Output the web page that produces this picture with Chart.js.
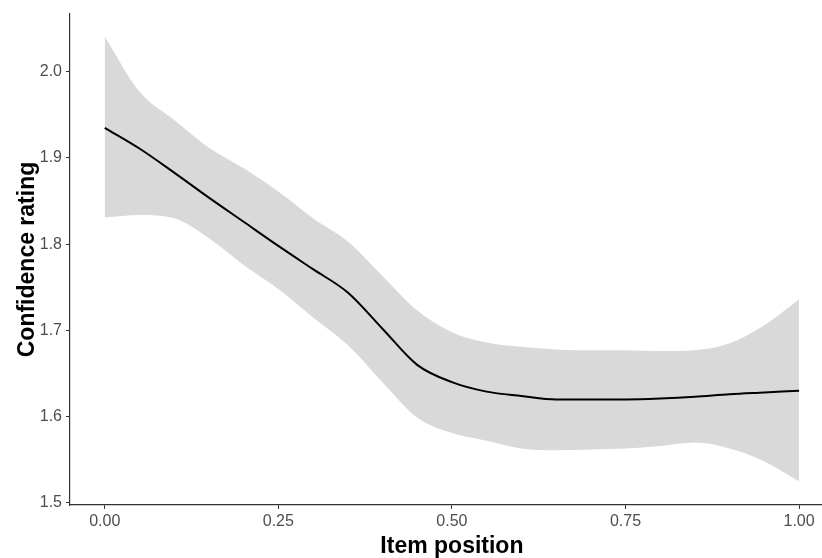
<!DOCTYPE html>
<html>
<head>
<meta charset="utf-8">
<script src="https://cdn.jsdelivr.net/npm/chart.js@4/dist/chart.umd.min.js"></script>
<style>
  html, body { margin: 0; padding: 0; background: #fff; }
  canvas { display: block; }
</style>
</head>
<body>
<canvas id="chart" width="822" height="558"></canvas>
<script>
// item position (proportion through the test) and the smoothed confidence rating
const positions = [0, 0.05, 0.10, 0.15, 0.20, 0.25, 0.30, 0.35, 0.40, 0.45, 0.50,
                   0.55, 0.60, 0.65, 0.70, 0.75, 0.80, 0.85, 0.90, 0.95, 1.00]
const meanRating = [1.935, 1.911, 1.883, 1.854, 1.826, 1.798, 1.771, 1.744, 1.702, 1.660, 1.640,
                    1.629, 1.624, 1.620, 1.620, 1.620, 1.621, 1.623, 1.626, 1.628, 1.630]
const upperCI = [2.041, 1.977, 1.944, 1.912, 1.888, 1.861, 1.830, 1.803, 1.763, 1.723, 1.698,
                 1.686, 1.681, 1.678, 1.677, 1.677, 1.676, 1.677, 1.685, 1.706, 1.736]
const lowerCI = [1.831, 1.834, 1.830, 1.807, 1.776, 1.748, 1.715, 1.683, 1.640, 1.599, 1.581,
                 1.572, 1.563, 1.561, 1.562, 1.563, 1.566, 1.570, 1.563, 1.548, 1.525]

const xTicks = [0, 0.25, 0.5, 0.75, 1]
const yTicks = [1.5, 1.6, 1.7, 1.8, 1.9, 2.0]

const xTitle = "Item position"
const yTitle = "Confidence rating"

const toPoints = ys => positions.map((x, i) => ({ x: x, y: ys[i] }))

const axisColor = "#333333"
const fontFamily = "'Liberation Sans', Arial, sans-serif"
const tickFont = { family: fontFamily, size: 16 }
const titleFont = { family: fontFamily, size: 23, weight: "bold", lineHeight: 1 }

// the panel runs past the right edge of the picture, so centre the x title on the full panel
const xTitlePlugin = {
  id: "xTitle",
  afterDraw(chart) {
    const x = chart.scales.x
    const ctx = chart.ctx
    const centre = (x.getPixelForValue(-0.05) + x.getPixelForValue(1.05)) / 2
    ctx.save()
    ctx.font = `bold ${titleFont.size}px ${fontFamily}`
    ctx.fillStyle = "#000000"
    ctx.textAlign = "center"
    ctx.textBaseline = "middle"
    ctx.fillText(xTitle, centre, chart.height - titleFont.size / 2)
    ctx.restore()
  }
}

new Chart(document.getElementById("chart"), {
  type: "line",
  data: {
    datasets: [
      {
        label: yTitle,
        data: toPoints(meanRating),
        borderColor: "#000000",
        borderWidth: 2,
        pointRadius: 0,
        fill: false,
        cubicInterpolationMode: "monotone"
      },
      {
        label: "upper",
        data: toPoints(upperCI),
        borderColor: "rgba(0,0,0,0)",
        borderWidth: 0,
        backgroundColor: "#d9d9d9",
        pointRadius: 0,
        fill: "+1",
        cubicInterpolationMode: "monotone"
      },
      {
        label: "lower",
        data: toPoints(lowerCI),
        borderColor: "rgba(0,0,0,0)",
        borderWidth: 0,
        pointRadius: 0,
        fill: false,
        cubicInterpolationMode: "monotone"
      }
    ]
  },
  options: {
    responsive: false,
    animation: false,
    devicePixelRatio: 1,
    layout: {
      padding: { top: 14, right: 0, bottom: 0, left: 0 }
    },
    plugins: {
      legend: { display: false },
      tooltip: { enabled: false }
    },
    scales: {
      x: {
        type: "linear",
        min: -0.05,
        max: 1.033,
        afterBuildTicks: scale => { scale.ticks = xTicks.map(v => ({ value: v })) },
        afterFit: scale => { scale.height = 53 },
        grid: {
          drawOnChartArea: false,
          drawTicks: true,
          tickLength: 4,
          color: axisColor
        },
        border: { display: true, color: axisColor, width: 1.2 },
        ticks: {
          padding: 3,
          color: "#4d4d4d",
          font: tickFont,
          maxRotation: 0,
          callback: v => v.toFixed(2)
        },
        title: { display: false }
      },
      y: {
        type: "linear",
        min: 1.4975,
        max: 2.067,
        afterBuildTicks: scale => { scale.ticks = yTicks.map(v => ({ value: v })) },
        afterFit: scale => { scale.width = 70 },
        grid: {
          drawOnChartArea: false,
          drawTicks: true,
          tickLength: 4,
          color: axisColor
        },
        border: { display: true, color: axisColor, width: 1.2 },
        ticks: {
          padding: 4,
          color: "#4d4d4d",
          font: tickFont,
          callback: v => v.toFixed(1)
        },
        title: {
          display: true,
          text: yTitle,
          color: "#000000",
          font: titleFont,
          padding: { top: 16, bottom: 0 }
        }
      }
    }
  },
  plugins: [xTitlePlugin]
})
</script>
</body>
</html>
